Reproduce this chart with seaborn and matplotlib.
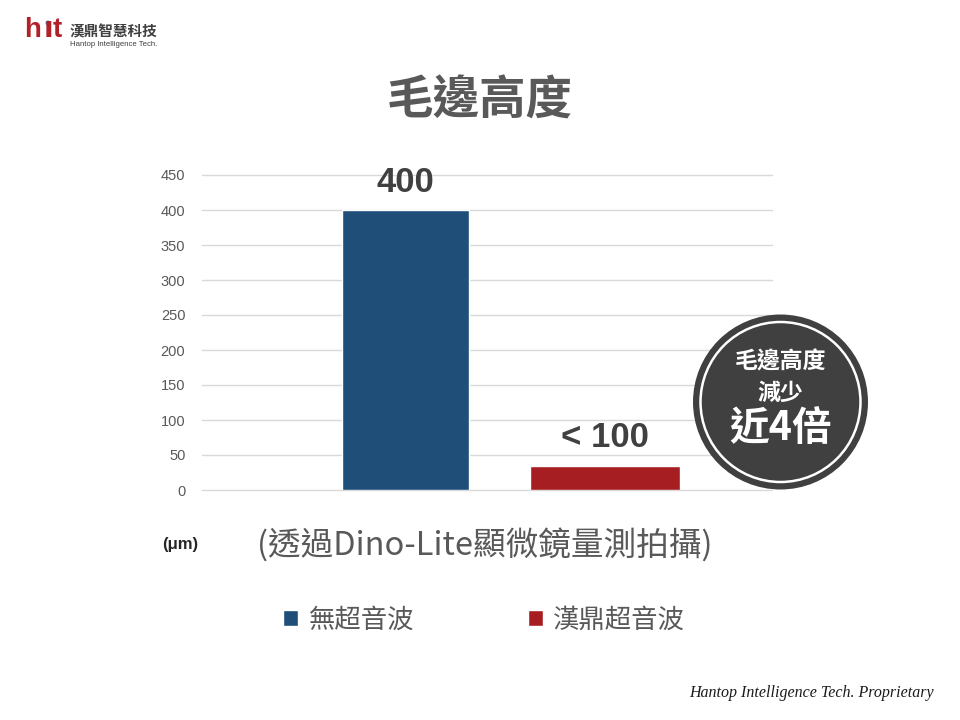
import matplotlib
matplotlib.use("Agg")
import matplotlib.pyplot as plt
from matplotlib.patches import Ellipse
import seaborn as sns
import pandas as pd

# ---- data ----
categories = ["無超音波", "漢鼎超音波"]
values = [400, 35]
bar_labels = ["400", "< 100"]
colors = ["#1F4E79", "#A61E22"]
yticks = [0, 50, 100, 150, 200, 250, 300, 350, 400, 450]

sns.set_theme(style="white")
plt.rcParams["font.family"] = ["Liberation Sans", "Noto Sans CJK TC", "DejaVu Sans"]
CJK = ["Noto Sans CJK TC", "DejaVu Sans"]

W, H = 960, 720
fig = plt.figure(figsize=(9.6, 7.2), dpi=100)
fig.patch.set_facecolor("white")

def fx(px):
    return px / W

def fy(py):
    return 1 - py / H

ax = fig.add_axes([fx(202), fy(490), fx(772) - fx(202), fy(175) - fy(490)])

df = pd.DataFrame({"cat": categories, "val": values})
sns.barplot(data=df, x="cat", y="val", hue="cat", palette=colors,
            width=0.637, dodge=False, legend=False, ax=ax, saturation=1)

# second bar is slightly wider in the reference
patches = list(ax.patches)
p2 = patches[1]
c = p2.get_x() + p2.get_width() / 2
p2.set_width(0.752)
p2.set_x(c - 0.752 / 2)

ax.set_xlim(-1.02, 1.837)
ax.set_ylim(0, 450)
ax.set_yticks(yticks)
ax.set_yticklabels([str(t) for t in yticks], color="#595959", fontsize=10.5)
ax.tick_params(axis="y", length=0, pad=12)
ax.set_xticks([])
ax.set_xlabel("")
ax.set_ylabel("")
for s in ax.spines.values():
    s.set_visible(False)
ax.yaxis.grid(True, color="#D9D9D9", linewidth=1)
ax.set_axisbelow(True)
for gl in ax.get_ygridlines():
    gl.set_clip_on(False)

# value labels
for i, (v, lab) in enumerate(zip(values, bar_labels)):
    ax.annotate(lab, (i, v), xytext=(0, 8), textcoords="offset points",
                ha="center", va="bottom", fontsize=25, fontweight="bold",
                color="#404040")

# title
fig.text(0.5, fy(101), "毛邊高度", ha="center", va="center", fontsize=33.5,
         fontweight="bold", color="#595959", family=CJK)

# unit + note
fig.text(fx(180), fy(545), "(μm)", ha="center", va="center", fontsize=12,
         fontweight="bold", color="#262626")
fig.text(fx(485), fy(545), "(透過Dino-Lite顯微鏡量測拍攝)", ha="center",
         va="center", fontsize=23.5, color="#595959", family=CJK)

# legend
handles = [patches[0], patches[1]]
leg = fig.legend(handles, categories, loc="center", bbox_to_anchor=(fx(484), fy(620)),
                 ncol=2, frameon=False, handlelength=0.58, handleheight=0.58,
                 handletextpad=0.4, columnspacing=4.3,
                 prop={"family": CJK, "size": 19})
for t in leg.get_texts():
    t.set_color("#595959")

# badge circle
cx, cy, r = 780.5, 402, 87.5
fig.add_artist(Ellipse((fx(cx), fy(cy)), 2 * r / W, 2 * r / H,
                       facecolor="#404040", edgecolor="none", transform=fig.transFigure))
r2 = 80
fig.add_artist(Ellipse((fx(cx), fy(cy)), 2 * r2 / W, 2 * r2 / H,
                       facecolor="none", edgecolor="white", linewidth=1.8,
                       transform=fig.transFigure))
fig.text(fx(cx), fy(362), "毛邊高度", ha="center", va="center", fontsize=16.5,
         fontweight="bold", color="white", family=CJK)
fig.text(fx(cx), fy(393), "減少", ha="center", va="center", fontsize=16.5,
         fontweight="bold", color="white", family=CJK)
fig.text(fx(cx), fy(429), "近4倍", ha="center", va="center", fontsize=28.5,
         fontweight="bold", color="white", family=CJK)

# logo
logo_red = "#B22028"
fig.text(fx(24), fy(37), "h", ha="left", va="baseline", fontsize=20,
         fontweight="bold", color=logo_red, family=["Liberation Sans"])
fig.text(fx(44), fy(37), "ı", ha="left", va="baseline", fontsize=20,
         fontweight="bold", color=logo_red, family=["DejaVu Sans"])
fig.text(fx(53), fy(37), "t", ha="left", va="baseline", fontsize=20,
         fontweight="bold", color=logo_red, family=["Liberation Sans"])
fig.add_artist(Ellipse((fx(48), fy(23)), 5 / W, 5 / H, facecolor="#2E9BD6",
                       edgecolor="none", transform=fig.transFigure))
fig.text(fx(70), fy(31), "漢鼎智慧科技", ha="left", va="center", fontsize=10.5,
         fontweight="bold", color="#404040", family=CJK)
fig.text(fx(70), fy(44), "Hantop Intelligence Tech.", ha="left", va="center",
         fontsize=5.6, color="#404040")

# footer
fig.text(fx(934), fy(693), "Hantop Intelligence Tech. Proprietary", ha="right",
         va="center", fontsize=11.5, style="italic", color="#1a1a1a",
         family=["Liberation Serif"])

fig.savefig("out.png", dpi=100, facecolor="white")
